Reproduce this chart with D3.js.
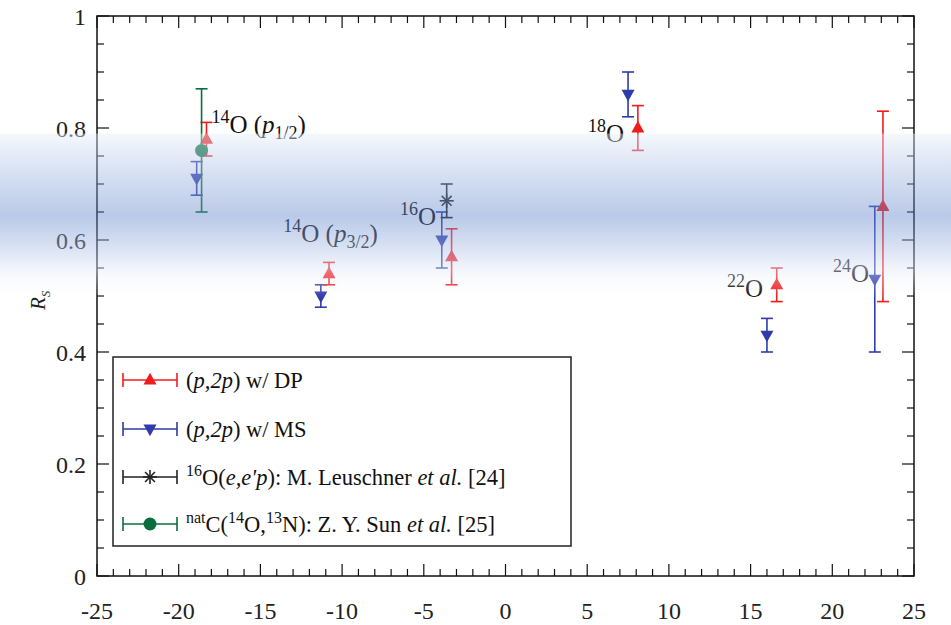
<!DOCTYPE html>
<html><head><meta charset="utf-8">
<script src="https://cdn.jsdelivr.net/npm/d3@7"></script>
<style>html,body{margin:0;padding:0;background:#fff;}svg{display:block;}
svg text{font-family:"Liberation Serif","DejaVu Serif",serif;}</style>
</head><body>
<svg id="chart" width="951" height="625"></svg>
<script>
// ---- data ----
const dpX   = [-18.3, -10.8, -3.3, 8.1, 16.6, 23.1];
const dpY   = [0.78, 0.54, 0.57, 0.80, 0.52, 0.66];
const dpErr = [0.03, 0.02, 0.05, 0.04, 0.03, 0.17];

const msX   = [-18.9, -11.3, -3.9, 7.5, 16.0, 22.6];
const msY   = [0.71, 0.50, 0.60, 0.86, 0.43, 0.53];
const msErr = [0.03, 0.02, 0.05, 0.04, 0.03, 0.13];

const eepX = [-3.6];
const eepY = [0.67];
const eepErr = [0.03];

const sunX = [-18.6];
const sunY = [0.76];
const sunErr = [0.11];

const xTicks = [-25, -20, -15, -10, -5, 0, 5, 10, 15, 20, 25];
const yTicks = [0, 0.2, 0.4, 0.6, 0.8, 1];

const isoMass  = ["14", "14", "16", "18", "22", "24"];
const isoSub   = ["1/2", "3/2", null, null, null, null];
const isoLabX  = [-18.0, -13.6, -6.45, 5.05, 13.55, 20.05];
const isoLabY  = [0.791, 0.596, 0.627, 0.775, 0.498, 0.525];

const bandRange = [0.79, 0.495];

// ---- setup ----
const W = 951, H = 625;
const svg = d3.select("#chart");
const x = d3.scaleLinear().domain([-25, 25]).range([97, 914]);
const y = d3.scaleLinear().domain([0, 1]).range([576, 16]);

const red = "#f01c1c", blue = "#2e3ba8", black = "#222", green = "#0a6e3c";

function errBar(g, cx, cy, e, color, cap = 6) {
  g.append("line").attr("x1", x(cx)).attr("x2", x(cx)).attr("y1", y(cy + e)).attr("y2", y(cy - e))
    .attr("stroke", color).attr("stroke-width", 1.6);
  [cy + e, cy - e].forEach(v => g.append("line").attr("x1", x(cx) - cap).attr("x2", x(cx) + cap)
    .attr("y1", y(v)).attr("y2", y(v)).attr("stroke", color).attr("stroke-width", 1.6));
}
function marker(g, px, py, type, color) {
  const s = 6.5;
  if (type === "up") {
    g.append("path").attr("d", `M${px},${py - s * 1.1}L${px + s},${py + s * 0.7}L${px - s},${py + s * 0.7}Z`).attr("fill", color);
  } else if (type === "down") {
    g.append("path").attr("d", `M${px},${py + s * 1.1}L${px + s},${py - s * 0.7}L${px - s},${py - s * 0.7}Z`).attr("fill", color);
  } else if (type === "circle") {
    g.append("circle").attr("cx", px).attr("cy", py).attr("r", 6.5).attr("fill", color);
  } else if (type === "star") {
    const r = 7;
    for (let k = 0; k < 4; k++) {
      const a = k * Math.PI / 4;
      g.append("line").attr("x1", px - r * Math.sin(a)).attr("y1", py - r * Math.cos(a))
        .attr("x2", px + r * Math.sin(a)).attr("y2", py + r * Math.cos(a))
        .attr("stroke", color).attr("stroke-width", 1.6);
    }
  }
}
const data = svg.append("g");
function series(xs, ys, es, type, color) {
  xs.forEach((xv, i) => {
    errBar(data, xv, ys[i], es[i], color);
    marker(data, x(xv), y(ys[i]), type, color);
  });
}
series(msX, msY, msErr, "down", blue);
series(dpX, dpY, dpErr, "up", red);
series(sunX, sunY, sunErr, "circle", green);
series(eepX, eepY, eepErr, "star", black);

// isotope labels
isoMass.forEach((m, i) => {
  const t = svg.append("text").attr("x", x(isoLabX[i])).attr("y", y(isoLabY[i]))
    .attr("font-size", 25).attr("fill", "#111");
  t.append("tspan").attr("font-size", 18).attr("dy", -10).text(m);
  t.append("tspan").attr("dy", 10).text("O");
  if (isoSub[i]) {
    t.append("tspan").text(" (");
    t.append("tspan").attr("font-style", "italic").text("p");
    t.append("tspan").attr("font-size", 18).attr("dy", 6).text(isoSub[i]);
    t.append("tspan").attr("dy", -6).text(")");
  }
});

// frame and ticks
const frame = svg.append("g");
frame.append("rect").attr("x", x(-25)).attr("y", y(1)).attr("width", x(25) - x(-25)).attr("height", y(0) - y(1))
  .attr("fill", "none").attr("stroke", "#111").attr("stroke-width", 1.5);
const xMinor = d3.range(-25, 25.01, 1), yMinor = d3.range(0, 20.5, 1).map(k => k * 0.05);
xMinor.forEach(v => {
  const major = Math.abs(v % 5) < 1e-6;
  const L = major ? 12 : 7;
  frame.append("line").attr("x1", x(v)).attr("x2", x(v)).attr("y1", y(0)).attr("y2", y(0) - L).attr("stroke", "#111").attr("stroke-width", 1.2);
  frame.append("line").attr("x1", x(v)).attr("x2", x(v)).attr("y1", y(1)).attr("y2", y(1) + L).attr("stroke", "#111").attr("stroke-width", 1.2);
});
yMinor.forEach((v, k) => {
  const L = (k % 4 === 0) ? 12 : 7;
  frame.append("line").attr("x1", x(-25)).attr("x2", x(-25) + L).attr("y1", y(v)).attr("y2", y(v)).attr("stroke", "#111").attr("stroke-width", 1.2);
  frame.append("line").attr("x1", x(25)).attr("x2", x(25) - L).attr("y1", y(v)).attr("y2", y(v)).attr("stroke", "#111").attr("stroke-width", 1.2);
});
const fmt = v => d3.format("~g")(v).replace("\u2212", "-");
xTicks.forEach(v => frame.append("text").attr("x", x(v)).attr("y", 619).attr("text-anchor", "middle")
  .attr("font-size", 24).attr("fill", "#222").text(fmt(v)));
yTicks.forEach(v => frame.append("text").attr("x", 86).attr("y", y(v) + 9).attr("text-anchor", "end")
  .attr("font-size", 24).attr("fill", "#222").text(fmt(v)));
// axis title
const yt = frame.append("text").attr("transform", `translate(45,${y(0.5) + 14}) rotate(-90)`)
  .attr("font-size", 21).attr("fill", "#222");
yt.append("tspan").attr("font-style", "italic").text("R");
yt.append("tspan").attr("font-style", "italic").attr("font-size", 13).attr("dy", 5).text("S");

// legend
const lg = svg.append("g");
lg.append("rect").attr("x", 113).attr("y", 357).attr("width", 458).attr("height", 189)
  .attr("fill", "#fff").attr("stroke", "#222").attr("stroke-width", 1.5);
const legendItems = [
  {type: "up", color: red}, {type: "down", color: blue}, {type: "star", color: black}, {type: "circle", color: green}
];
const legendYs = [380, 429, 477, 524];
legendItems.forEach((it, i) => {
  const ly = legendYs[i];
  lg.append("line").attr("x1", 123).attr("x2", 177).attr("y1", ly).attr("y2", ly).attr("stroke", it.color).attr("stroke-width", 1.6);
  [123, 177].forEach(cx => lg.append("line").attr("x1", cx).attr("x2", cx).attr("y1", ly - 7).attr("y2", ly + 7).attr("stroke", it.color).attr("stroke-width", 1.6));
  marker(lg, 150, ly, it.type, it.color);
});
function ltext(i) {
  return lg.append("text").attr("x", 186).attr("y", legendYs[i] + 8).attr("font-size", 22.5).attr("fill", "#111");
}
let t = ltext(0);
t.append("tspan").text("(");
t.append("tspan").attr("font-style", "italic").text("p,2p");
t.append("tspan").text(") w/ DP");
t = ltext(1);
t.append("tspan").text("(");
t.append("tspan").attr("font-style", "italic").text("p,2p");
t.append("tspan").text(") w/ MS");
t = ltext(2);
t.append("tspan").attr("font-size", 16).attr("dy", -9).text("16");
t.append("tspan").attr("dy", 9).text("O(");
t.append("tspan").attr("font-style", "italic").text("e,e'p");
t.append("tspan").text("): M. Leuschner ");
t.append("tspan").attr("font-style", "italic").text("et al.");
t.append("tspan").text(" [24]");
t = ltext(3);
t.append("tspan").attr("font-size", 16).attr("dy", -9).text("nat");
t.append("tspan").attr("dy", 9).text("C(");
t.append("tspan").attr("font-size", 16).attr("dy", -9).text("14");
t.append("tspan").attr("dy", 9).text("O,");
t.append("tspan").attr("font-size", 16).attr("dy", -9).text("13");
t.append("tspan").attr("dy", 9).text("N): Z. Y. Sun ");
t.append("tspan").attr("font-style", "italic").text("et al.");
t.append("tspan").text(" [25]");

// translucent band overlay
const defs = svg.append("defs");
const grad = defs.append("linearGradient").attr("id", "band").attr("x1", 0).attr("x2", 0).attr("y1", 0).attr("y2", 1);
[[0, "rgb(232,238,250)", 0.45], [0.5, "rgb(90,128,200)", 0.42], [0.82, "rgb(225,232,248)", 0.45], [1, "rgb(255,255,255)", 0.0]]
  .forEach(([o, c, a]) => grad.append("stop").attr("offset", o).attr("stop-color", c).attr("stop-opacity", a));
svg.append("rect").attr("x", 0).attr("width", W).attr("y", y(bandRange[0])).attr("height", y(bandRange[1]) - y(bandRange[0]))
  .attr("fill", "url(#band)");
</script>
</body></html>
